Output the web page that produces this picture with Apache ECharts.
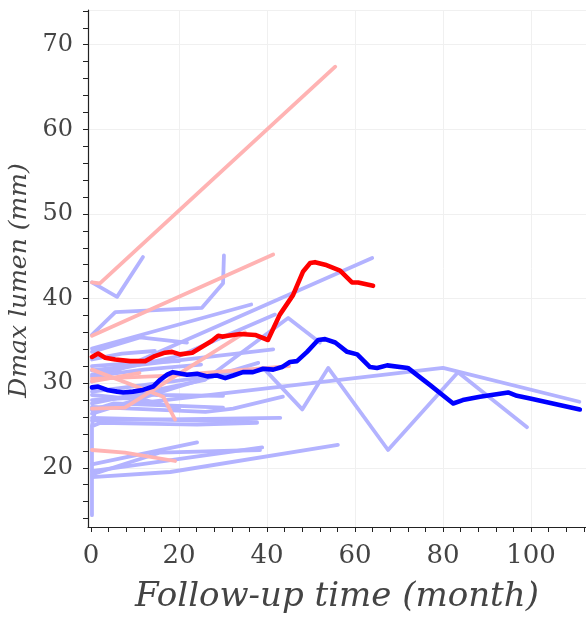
<!DOCTYPE html>
<html>
<head>
<meta charset="utf-8">
<script src="https://cdn.jsdelivr.net/npm/echarts@6/dist/echarts.min.js"></script>
<style>
html,body{margin:0;padding:0;background:#fff;}
#chart{width:586px;height:617px;}
</style>
</head>
<body>
<div id="chart"></div>
<script>
// ---- data ----
const xLabelValues = [0, 20, 40, 60, 80, 100];
const xTickValues = [0, 4, 8, 12, 16, 20, 24, 28, 32, 36, 40, 44, 48, 52, 56, 60, 64, 68, 72, 76, 80, 84, 88, 92, 96, 100, 104, 108, 112];
const yLabelValues = [20, 30, 40, 50, 60, 70];
const yTickValues = [14, 16, 18, 20, 22, 24, 26, 28, 30, 32, 34, 36, 38, 40, 42, 44, 46, 48, 50, 52, 54, 56, 58, 60, 62, 64, 66, 68, 70, 72, 74];
const xGridValues = [20, 40, 60, 80, 100];
const yGridValues = [20, 30, 40, 50, 60, 70, 74.1];

const blueTracks = [
  [[0.2,41.9],[5.9,40.2],[11.8,44.9]],
  [[0.2,35.7],[5.5,38.4],[25.2,38.9],[30.0,41.8],[30.2,45.1]],
  [[0.2,34.1],[36.4,39.3]],
  [[0.2,30.2],[63.9,44.8]],
  [[0.2,33.7],[11.1,35.4],[21.8,34.8]],
  [[0.2,27.6],[25.9,30.4],[44.8,37.7],[52.0,34.8]],
  [[0.2,29.0],[39.5,31.6],[48.0,26.9],[53.9,31.8],[67.5,22.1],[83.4,31.3],[99.1,24.8]],
  [[0.2,27.0],[80.0,31.8],[111.0,27.8]],
  [[0.2,31.5],[41.4,34.0]],
  [[0.2,31.0],[20.0,33.2],[41.8,38.1]],
  [[0.2,25.9],[37.7,25.4]],
  [[0.2,14.4],[0.2,24.9],[2.0,25.3],[24.1,25.1],[37.7,25.3]],
  [[0.2,25.6],[43.0,25.9]],
  [[0.2,27.2],[26.0,26.6],[32.3,27.0],[43.6,28.4]],
  [[0.2,28.0],[10.0,28.3],[20.0,27.0]],
  [[0.2,29.4],[15.0,28.6],[30.0,28.5]],
  [[0.2,32.0],[10.0,32.4],[20.0,32.6]],
  [[0.2,26.4],[20.0,29.6],[38.0,32.4]],
  [[0.2,18.9],[18.0,19.5],[56.1,22.7]],
  [[0.2,20.4],[24.1,23.0]],
  [[0.2,19.6],[38.9,22.4]],
  [[0.2,19.2],[15.7,21.8],[38.4,22.1]],
  [[0.2,25.0],[1.0,27.0],[12.0,27.8]],
  [[0.2,32.8],[7.0,33.5],[14.5,33.8]],
  [[0.2,30.8],[12.0,31.6],[25.0,32.2]],
  [[0.2,28.6],[8.0,28.2],[16.0,28.9]],
  [[0.2,26.8],[5.0,27.6],[30.0,27.1]]
];

const redTracks = [
  [[0.2,41.9],[2.0,41.8],[55.5,67.4]],
  [[0.2,35.6],[41.4,45.2]],
  [[0.2,31.6],[16.4,28.4],[19.1,25.7]],
  [[0.2,27.0],[7.7,27.1],[35.0,36.0]],
  [[0.2,30.5],[18.0,30.9],[45.0,32.0]],
  [[0.2,22.1],[7.7,21.8],[19.1,20.8]],
  [[0.2,30.2],[11.0,31.2]]
];

const meanBlue = [
  [0.2,29.5],[1.6,29.6],[3.6,29.2],[5.9,29.0],[7.3,28.9],[9.5,29.0],[11.8,29.2],[14.1,29.6],
  [15.7,30.4],[17.3,31.0],[18.6,31.3],[21.8,31.0],[24.1,31.1],[26.4,30.8],[28.6,30.9],[30.5,30.6],
  [32.3,30.9],[34.5,31.3],[36.8,31.3],[39.1,31.7],[41.4,31.6],[43.4,31.9],[45.2,32.5],[46.8,32.6],
  [49.1,33.7],[51.6,35.1],[53.2,35.2],[55.5,34.8],[58.2,33.7],[60.5,33.4],[63.4,31.9],[65.0,31.8],
  [67.3,32.1],[72.0,31.8],[77.0,29.8],[82.3,27.6],[84.5,28.0],[88.4,28.4],[94.8,28.9],[96.8,28.5],
  [99.8,28.2],[111.1,26.9]
];

const meanRed = [
  [0.2,33.1],[1.6,33.5],[3.2,33.0],[5.5,32.8],[8.9,32.6],[12.3,32.6],[14.5,33.2],[16.8,33.6],
  [18.4,33.7],[20.2,33.4],[23.0,33.6],[25.9,34.5],[27.5,35.0],[28.9,35.6],[29.8,35.5],[31.1,35.6],
  [33.9,35.8],[37.3,35.7],[40.2,35.1],[42.9,38.1],[45.9,40.4],[48.2,43.2],[49.8,44.2],[50.9,44.3],
  [53.2,44.0],[56.6,43.3],[59.3,41.9],[60.7,41.9],[64.1,41.5]
];

// ---- chart ----
const serif = 'DejaVu Serif';
const textColor = '#444444';
const axisColor = '#222222';
const xMin = -0.7, xMax = 112.5, yMin = 13.0, yMax = 74.1;

function lineSeries(data, color, width, z) {
  return {
    type: 'line', data: data, xAxisIndex: 0, yAxisIndex: 0,
    symbol: 'none', showSymbol: false, silent: true, z: z,
    lineStyle: { color: color, width: width, cap: 'round', join: 'round' },
    clip: true
  };
}

const series = [];
blueTracks.forEach(t => series.push(lineSeries(t, '#b3b3ff', 3.8, 2)));
redTracks.forEach(t => series.push(lineSeries(t, '#ffb3b3', 3.8, 3)));
series.push(lineSeries(meanBlue, '#0000ff', 4.6, 4));
series.push(lineSeries(meanRed, '#ff0000', 4.6, 5));

const option = {
  animation: false,
  backgroundColor: '#ffffff',
  grid: { left: 88, right: 0, top: 10, bottom: 90, containLabel: false, outerBoundsMode: 'none' },
  xAxis: [
    {
      type: 'value', min: xMin, max: xMax, position: 'bottom',
      axisLine: { show: true, onZero: false, lineStyle: { color: axisColor, width: 1.2 } },
      axisTick: { show: true, customValues: xTickValues, length: 5, lineStyle: { color: axisColor, width: 1 } },
      axisLabel: { customValues: xLabelValues, fontFamily: serif, fontSize: 26, color: textColor, margin: 16 },
      splitLine: { show: false },
      name: 'Follow-up time (month)', nameLocation: 'middle', nameGap: 53,
      nameTextStyle: { fontFamily: serif, fontStyle: 'italic', fontSize: 34, color: textColor }
    },
    {
      type: 'value', min: xMin, max: xMax, position: 'bottom',
      axisLine: { show: false }, axisLabel: { show: false },
      axisTick: { show: false, customValues: xGridValues },
      splitLine: { show: true, lineStyle: { color: '#f0f0f0', width: 1 } }
    }
  ],
  yAxis: [
    {
      type: 'value', min: yMin, max: yMax, position: 'left',
      axisLine: { show: true, onZero: false, lineStyle: { color: axisColor, width: 1.2 } },
      axisTick: { show: true, customValues: yTickValues, length: 5, lineStyle: { color: axisColor, width: 1 } },
      axisLabel: { customValues: yLabelValues, fontFamily: serif, fontSize: 24, color: textColor, margin: 15 },
      splitLine: { show: false },
      name: 'Dmax lumen (mm)', nameLocation: 'middle', nameGap: 47,
      nameTextStyle: { fontFamily: serif, fontStyle: 'italic', fontSize: 25, color: textColor, padding: [0, 24, 0, 0] }
    },
    {
      type: 'value', min: yMin, max: yMax, position: 'left',
      axisLine: { show: false }, axisLabel: { show: false },
      axisTick: { show: false, customValues: yGridValues },
      splitLine: { show: true, lineStyle: { color: '#f0f0f0', width: 1 } }
    }
  ],
  series: series
};

const chart = echarts.init(document.getElementById('chart'), null, { renderer: 'canvas' });
chart.setOption(option);
</script>
</body>
</html>
